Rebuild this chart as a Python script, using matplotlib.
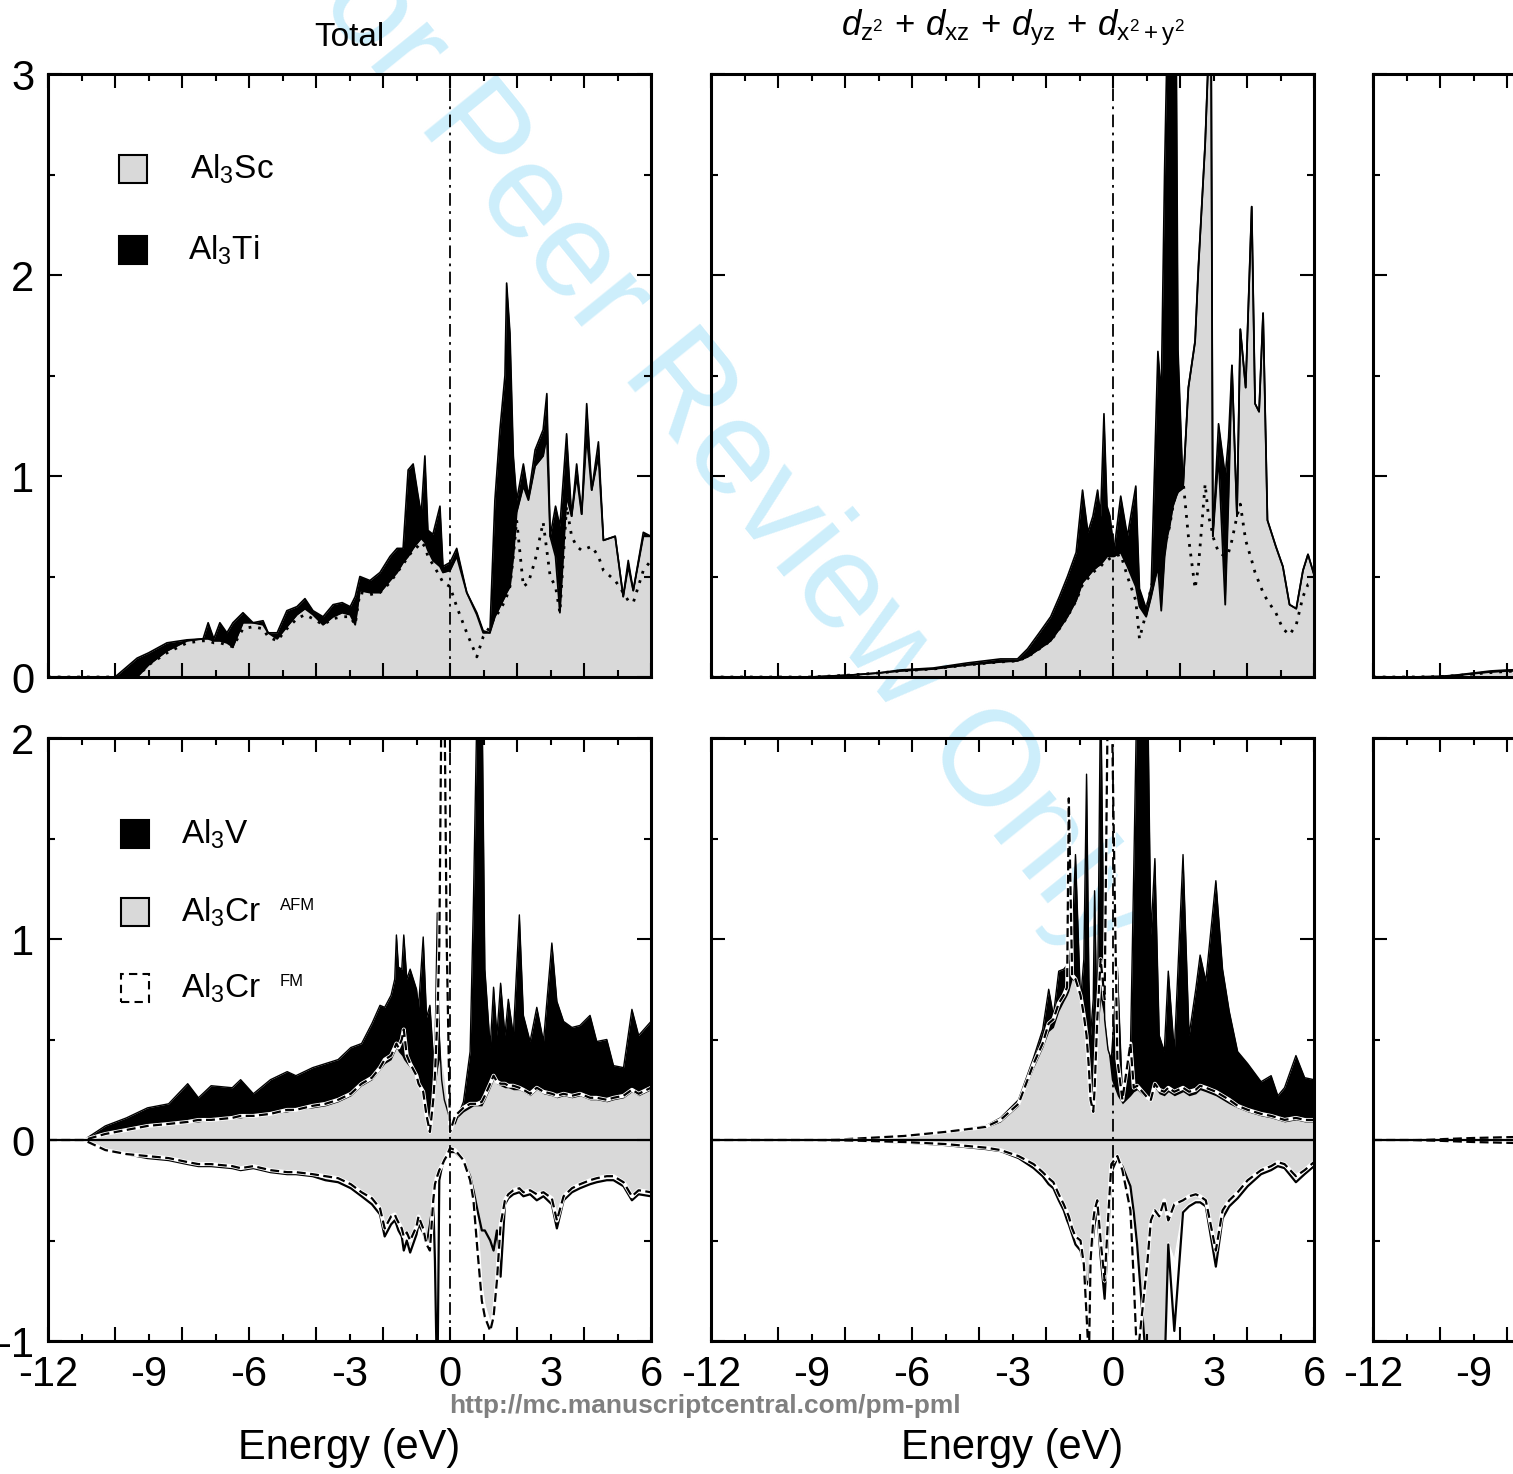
import numpy as np
import matplotlib
matplotlib.use('Agg')
import matplotlib.pyplot as plt
from matplotlib.patches import Rectangle

plt.rcParams['font.family'] = ['Liberation Sans', 'DejaVu Sans']
plt.rcParams['mathtext.fontset'] = 'custom'
plt.rcParams['mathtext.rm'] = 'Liberation Sans'
plt.rcParams['mathtext.it'] = 'Liberation Sans:italic'
plt.rcParams['mathtext.bf'] = 'Liberation Sans:bold'

GRAY = '#d9d9d9'

# ---- top row, left: total DOS ----
E_tl = [-12, -10.0, -9.34, -9.0, -8.45, -7.85, -7.37, -7.22, -7.05, -6.87,
        -6.66, -6.48, -6.18, -5.88, -5.58, -5.43, -5.16, -4.87, -4.57, -4.33,
        -4.09, -3.79, -3.49, -3.22, -2.98, -2.83, -2.69, -2.39, -2.09, -1.79,
        -1.58, -1.40, -1.25, -1.10, -0.96, -0.86, -0.75, -0.66, -0.51, -0.30,
        -0.21, 0.0, 0.2, 0.5, 0.8, 0.99, 1.19, 1.34, 1.49, 1.64,
        1.69, 1.79, 1.89, 1.99, 2.19, 2.34, 2.54, 2.78, 2.89, 2.99,
        3.15, 3.28, 3.48, 3.63, 3.78, 3.93, 4.08, 4.23, 4.43, 4.58,
        4.93, 5.17, 5.32, 5.47, 5.77, 6.0]
ti_tl = [0, 0, 0.094, 0.12, 0.17, 0.185, 0.19, 0.27, 0.19, 0.27,
         0.22, 0.27, 0.32, 0.27, 0.28, 0.22, 0.22, 0.33, 0.35, 0.39,
         0.33, 0.30, 0.36, 0.37, 0.35, 0.40, 0.50, 0.48, 0.52, 0.60,
         0.64, 0.64, 1.03, 1.06, 0.91, 0.81, 1.10, 0.73, 0.71, 0.85,
         0.55, 0.57, 0.64, 0.42, 0.32, 0.23, 0.22, 0.88, 1.23, 1.50,
         1.96, 1.71, 1.10, 0.88, 1.06, 0.90, 1.13, 1.23, 1.41, 0.70,
         0.85, 0.75, 1.21, 0.80, 1.06, 0.81, 1.36, 0.93, 1.17, 0.68,
         0.70, 0.40, 0.58, 0.43, 0.72, 0.70]
sc_tl = [0, 0, 0, 0.06, 0.13, 0.18, 0.19, 0.19, 0.18, 0.18,
         0.17, 0.15, 0.27, 0.27, 0.26, 0.22, 0.19, 0.25, 0.31, 0.34,
         0.31, 0.26, 0.30, 0.32, 0.31, 0.26, 0.43, 0.42, 0.42, 0.48,
         0.52, 0.57, 0.60, 0.64, 0.67, 0.69, 0.67, 0.63, 0.58, 0.55,
         0.52, 0.53, 0.60, 0.42, 0.31, 0.22, 0.22, 0.30, 0.35, 0.40,
         0.42, 0.45, 0.60, 0.82, 0.95, 0.88, 1.05, 1.10, 1.20, 0.70,
         0.60, 0.32, 0.90, 0.80, 1.00, 0.81, 1.20, 0.93, 1.10, 0.68,
         0.70, 0.40, 0.55, 0.43, 0.70, 0.70]
dot_tl = [0, 0, 0, 0.06, 0.12, 0.17, 0.18, 0.18, 0.17, 0.17,
          0.16, 0.15, 0.24, 0.25, 0.24, 0.20, 0.18, 0.24, 0.29, 0.31,
          0.29, 0.26, 0.29, 0.30, 0.30, 0.26, 0.42, 0.41, 0.42, 0.47,
          0.52, 0.56, 0.60, 0.63, 0.65, 0.67, 0.65, 0.60, 0.56, 0.50,
          0.47, 0.45, 0.35, 0.22, 0.10, 0.20, 0.25, 0.30, 0.33, 0.38,
          0.40, 0.45, 0.60, 0.78, 0.45, 0.47, 0.58, 0.77, 0.63, 0.50,
          0.45, 0.32, 0.85, 0.70, 0.65, 0.63, 0.64, 0.65, 0.60, 0.53,
          0.48, 0.42, 0.38, 0.37, 0.53, 0.58]

# ---- top row, middle: d states ----
E_tm = [-12, -9.0, -8.4, -7.8, -7.0, -6.35, -5.36, -4.35, -3.36, -2.85,
        -2.55, -2.2, -1.86, -1.6, -1.36, -1.1, -0.91, -0.75, -0.6, -0.46,
        -0.37, -0.27, -0.18, -0.09, 0.03, 0.23, 0.43, 0.68, 0.79, 0.99,
        1.14, 1.34, 1.44, 1.54, 1.62, 1.69, 1.79, 1.89, 1.94, 2.09,
        2.25, 2.45, 2.55, 2.75, 2.85, 2.93, 2.98, 3.15, 3.35, 3.45,
        3.55, 3.7, 3.8, 3.96, 4.14, 4.24, 4.36, 4.48, 4.61, 4.86,
        5.07, 5.27, 5.47, 5.67, 5.82, 6.0]
ti_tm = [0, 0, 0.005, 0.01, 0.02, 0.035, 0.045, 0.07, 0.09, 0.09,
         0.14, 0.22, 0.30, 0.40, 0.50, 0.62, 0.93, 0.72, 0.80, 0.93,
         0.80, 1.31, 0.85, 0.80, 0.63, 0.90, 0.70, 0.95, 0.44, 0.34,
         0.45, 1.62, 1.40, 2.52, 3.2, 3.2, 3.2, 3.1, 1.63, 0.94,
         1.44, 1.67, 2.04, 2.65, 3.1, 3.1, 0.70, 1.26, 1.00, 1.19,
         1.55, 0.80, 1.73, 1.44, 2.34, 1.36, 1.32, 1.81, 0.78, 0.65,
         0.55, 0.36, 0.34, 0.53, 0.61, 0.51]
sc_tm = [0, 0, 0.005, 0.01, 0.02, 0.03, 0.04, 0.06, 0.075, 0.08,
         0.10, 0.14, 0.18, 0.24, 0.30, 0.38, 0.47, 0.50, 0.53, 0.55,
         0.56, 0.58, 0.60, 0.60, 0.60, 0.62, 0.55, 0.45, 0.35, 0.30,
         0.40, 0.55, 0.33, 0.60, 0.70, 0.75, 0.85, 0.90, 0.92, 0.94,
         1.44, 1.67, 2.04, 2.65, 3.1, 3.1, 0.70, 1.10, 0.36, 0.90,
         1.55, 0.80, 1.73, 1.44, 2.34, 1.36, 1.32, 1.81, 0.78, 0.65,
         0.55, 0.36, 0.34, 0.53, 0.61, 0.51]
dot_tm = [0, 0, 0.005, 0.01, 0.02, 0.03, 0.04, 0.06, 0.075, 0.08,
          0.10, 0.14, 0.18, 0.24, 0.30, 0.38, 0.46, 0.49, 0.52, 0.54,
          0.55, 0.57, 0.58, 0.59, 0.60, 0.61, 0.50, 0.38, 0.19, 0.32,
          0.45, 0.55, 0.60, 0.65, 0.70, 0.75, 0.85, 0.92, 0.95, 0.98,
          0.70, 0.44, 0.55, 0.96, 0.80, 0.75, 0.70, 0.62, 0.60, 0.62,
          0.68, 0.80, 0.86, 0.68, 0.58, 0.52, 0.47, 0.42, 0.38, 0.32,
          0.24, 0.21, 0.26, 0.40, 0.46, 0.47]

# ---- right column (only its left edge is inside the picture) ----
E_r = [-12, -10.9, -10.0, -9.5, -9.0, -8.5, -8.0, -7.0]
ti_tr = [0, 0, 0.003, 0.01, 0.02, 0.03, 0.035, 0.04]
sc_tr = [0, 0, 0.002, 0.008, 0.017, 0.025, 0.03, 0.035]
dot_tr = [0, 0, 0.002, 0.007, 0.015, 0.022, 0.028, 0.032]
v_up_br = [0, 0, 0.004, 0.008, 0.011, 0.014, 0.016, 0.02]
afm_up_br = [0, 0, 0.003, 0.006, 0.009, 0.011, 0.013, 0.016]
afm_dn_br = [0, 0, -0.003, -0.006, -0.009, -0.011, -0.013, -0.016]
sol_dn_br = [0, 0, -0.004, -0.007, -0.010, -0.012, -0.014, -0.017]
fm_up_br = [0, 0, 0.004, 0.007, 0.010, 0.012, 0.014, 0.017]
fm_dn_br = [0, 0, -0.004, -0.007, -0.010, -0.012, -0.014, -0.017]

# ---- bottom row, left: spin resolved total ----
E_bl = [-12, -11.0, -10.93, -10.29, -9.66, -9.03, -8.4, -7.83, -7.51, -7.13,
        -6.5, -6.25, -5.87, -5.36, -4.86, -4.6, -4.1, -3.72, -3.34, -2.96,
        -2.64, -2.33, -2.09, -1.95, -1.76, -1.65, -1.6, -1.54, -1.44, -1.38,
        -1.29, -1.19, -1.0, -0.94, -0.8, -0.7, -0.6, -0.5, -0.45, -0.38,
        -0.32, -0.25, -0.17, -0.1, 0.0, 0.15, 0.4, 0.6, 0.7, 0.82,
        0.95, 1.04, 1.2, 1.3, 1.4, 1.51, 1.64, 1.74, 1.89, 2.07,
        2.19, 2.39, 2.59, 2.79, 3.04, 3.19, 3.39, 3.64, 3.88, 4.18,
        4.38, 4.68, 4.88, 5.18, 5.43, 5.63, 6.0]
v_up_bl = [0, 0, 0, 0.07, 0.11, 0.16, 0.18, 0.28, 0.21, 0.27,
           0.26, 0.30, 0.23, 0.30, 0.34, 0.32, 0.36, 0.38, 0.40, 0.46,
           0.48, 0.58, 0.67, 0.66, 0.72, 0.80, 1.02, 0.86, 0.85, 1.02,
           0.80, 0.85, 0.75, 0.66, 1.01, 0.61, 0.67, 0.42, 0.42, 1.13,
           0.52, 0.30, 0.20, 0.16, 0.10, 0.08, 0.19, 0.44, 1.19, 2.3,
           2.3, 0.85, 0.46, 0.76, 0.52, 0.78, 0.52, 0.70, 0.52, 1.12,
           0.62, 0.49, 0.66, 0.49, 0.98, 0.69, 0.59, 0.56, 0.57, 0.62,
           0.49, 0.50, 0.37, 0.36, 0.65, 0.52, 0.59]
afm_up_bl = [0, 0, 0, 0.03, 0.05, 0.07, 0.08, 0.09, 0.09, 0.10,
             0.11, 0.11, 0.12, 0.13, 0.14, 0.15, 0.16, 0.17, 0.19, 0.22,
             0.27, 0.30, 0.35, 0.38, 0.40, 0.44, 0.46, 0.44, 0.42, 0.40,
             0.38, 0.36, 0.30, 0.28, 0.22, 0.15, 0.05, 0.15, 0.25, 0.35,
             0.40, 0.38, 0.30, 0.18, 0.10, 0.10, 0.14, 0.16, 0.17, 0.17,
             0.17, 0.20, 0.26, 0.30, 0.28, 0.27, 0.26, 0.26, 0.25, 0.25,
             0.24, 0.22, 0.25, 0.23, 0.22, 0.21, 0.22, 0.21, 0.22, 0.20,
             0.20, 0.19, 0.20, 0.21, 0.24, 0.22, 0.25]
fm_up_bl = [0, 0, 0, 0.03, 0.05, 0.07, 0.08, 0.09, 0.10, 0.10,
            0.11, 0.12, 0.12, 0.13, 0.15, 0.15, 0.17, 0.18, 0.20, 0.23,
            0.28, 0.31, 0.36, 0.40, 0.42, 0.46, 0.48, 0.46, 0.50, 0.55,
            0.42, 0.38, 0.32, 0.28, 0.24, 0.12, 0.04, 0.20, 0.32, 0.60,
            0.95, 2.3, 2.3, 1.0, 0.04, 0.12, 0.16, 0.18, 0.18, 0.18,
            0.19, 0.22, 0.28, 0.32, 0.29, 0.28, 0.28, 0.27, 0.27, 0.26,
            0.25, 0.23, 0.26, 0.24, 0.23, 0.22, 0.23, 0.22, 0.23, 0.21,
            0.21, 0.20, 0.21, 0.22, 0.25, 0.23, 0.26]
afm_dn_bl = [0, 0, 0, -0.05, -0.07, -0.09, -0.09, -0.12, -0.12, -0.13,
             -0.14, -0.14, -0.13, -0.16, -0.16, -0.17, -0.18, -0.19, -0.20, -0.23,
             -0.27, -0.30, -0.35, -0.46, -0.40, -0.38, -0.40, -0.42, -0.46, -0.50,
             -0.48, -0.54, -0.45, -0.40, -0.45, -0.50, -0.40, -0.27, -0.22, -0.19,
             -0.16, -0.14, -0.11, -0.09, -0.07, -0.05, -0.10, -0.18, -0.23, -0.40,
             -0.72, -0.82, -0.91, -0.85, -0.68, -0.45, -0.32, -0.28, -0.26, -0.25,
             -0.27, -0.26, -0.28, -0.27, -0.30, -0.42, -0.29, -0.25, -0.23, -0.21,
             -0.20, -0.19, -0.19, -0.22, -0.29, -0.26, -0.27]
sol_dn_bl = [0, 0, 0, -0.05, -0.07, -0.09, -0.10, -0.12, -0.13, -0.13,
             -0.14, -0.15, -0.14, -0.16, -0.17, -0.17, -0.18, -0.20, -0.21, -0.24,
             -0.28, -0.32, -0.37, -0.48, -0.42, -0.40, -0.42, -0.45, -0.48, -0.55,
             -0.50, -0.56, -0.47, -0.42, -0.46, -0.52, -0.42, -0.30, -0.60, -1.3,
             -0.20, -0.14, -0.10, -0.08, -0.06, -0.06, -0.10, -0.18, -0.25, -0.35,
             -0.45, -0.45, -0.50, -0.55, -0.45, -0.68, -0.32, -0.29, -0.27, -0.26,
             -0.28, -0.27, -0.30, -0.28, -0.32, -0.44, -0.30, -0.26, -0.24, -0.22,
             -0.21, -0.20, -0.20, -0.23, -0.30, -0.27, -0.28]
fm_dn_bl = [0, 0, 0, -0.05, -0.07, -0.08, -0.09, -0.11, -0.12, -0.12,
            -0.13, -0.14, -0.13, -0.15, -0.16, -0.16, -0.17, -0.18, -0.19, -0.22,
            -0.26, -0.29, -0.34, -0.44, -0.38, -0.37, -0.39, -0.41, -0.44, -0.48,
            -0.46, -0.50, -0.43, -0.38, -0.44, -0.52, -0.55, -0.30, -0.22, -0.18,
            -0.15, -0.13, -0.10, -0.08, -0.04, -0.05, -0.10, -0.20, -0.30, -0.55,
            -0.80, -0.88, -0.95, -0.88, -0.70, -0.42, -0.30, -0.27, -0.25, -0.24,
            -0.26, -0.25, -0.27, -0.26, -0.29, -0.40, -0.28, -0.24, -0.22, -0.20,
            -0.19, -0.18, -0.18, -0.21, -0.28, -0.25, -0.26]

# ---- bottom row, middle: spin resolved d states ----
E_bm = [-12, -9.0, -8.0, -7.46, -6.24, -5.02, -3.8, -3.36, -2.82, -2.37,
        -2.1, -1.92, -1.78, -1.62, -1.47, -1.37, -1.32, -1.22, -1.12, -0.97,
        -0.87, -0.79, -0.72, -0.67, -0.59, -0.55, -0.47, -0.37, -0.25, -0.15,
        -0.05, 0.13, 0.28, 0.52, 0.62, 0.72, 1.03, 1.13, 1.25, 1.38,
        1.53, 1.65, 1.83, 2.09, 2.27, 2.47, 2.6, 2.77, 3.07, 3.27,
        3.47, 3.72, 4.02, 4.42, 4.72, 4.92, 5.12, 5.46, 5.72, 6.0]
v_up_bm = [0, 0, 0.005, 0.01, 0.02, 0.04, 0.07, 0.11, 0.20, 0.41,
           0.55, 0.75, 0.62, 0.84, 0.85, 0.87, 0.90, 1.00, 1.42, 0.69,
           0.90, 1.82, 0.80, 0.52, 0.70, 1.24, 0.52, 2.3, 0.60, 0.45,
           0.40, 0.86, 0.22, 0.44, 1.35, 2.3, 2.3, 1.02, 1.40, 0.52,
           0.44, 0.84, 0.44, 1.42, 0.52, 0.75, 0.92, 0.79, 1.29, 0.85,
           0.64, 0.44, 0.38, 0.29, 0.32, 0.22, 0.26, 0.42, 0.31, 0.30]
afm_up_bm = [0, 0, 0.004, 0.008, 0.018, 0.035, 0.06, 0.09, 0.17, 0.36,
             0.46, 0.54, 0.56, 0.64, 0.69, 0.72, 0.74, 0.80, 0.78, 0.70,
             0.60, 0.50, 0.36, 0.25, 0.18, 0.25, 0.50, 0.70, 0.60, 0.45,
             0.30, 0.22, 0.18, 0.22, 0.24, 0.25, 0.20, 0.22, 0.26, 0.23,
             0.22, 0.24, 0.22, 0.24, 0.22, 0.23, 0.25, 0.24, 0.22, 0.20,
             0.18, 0.16, 0.14, 0.12, 0.11, 0.10, 0.09, 0.10, 0.09, 0.09]
fm_up_bm = [0, 0, 0.004, 0.009, 0.02, 0.04, 0.065, 0.10, 0.18, 0.38,
            0.48, 0.58, 0.60, 0.68, 0.72, 0.76, 1.70, 0.82, 0.80, 0.72,
            0.62, 0.52, 0.36, 0.20, 0.14, 0.25, 0.60, 0.90, 0.70, 2.3,
            2.3, 0.40, 0.20, 0.48, 0.26, 0.27, 0.21, 0.20, 0.28, 0.25,
            0.24, 0.26, 0.24, 0.26, 0.24, 0.25, 0.27, 0.26, 0.24, 0.22,
            0.20, 0.17, 0.15, 0.13, 0.12, 0.11, 0.10, 0.11, 0.10, 0.10]
afm_dn_bm = [0, 0, -0.002, -0.004, -0.01, -0.02, -0.04, -0.05, -0.08, -0.13,
             -0.17, -0.20, -0.22, -0.28, -0.33, -0.38, -0.40, -0.45, -0.50, -0.52,
             -0.60, -0.70, -0.68, -0.55, -0.45, -0.40, -0.32, -0.55, -0.75, -0.45,
             -0.15, -0.08, -0.12, -0.22, -0.35, -0.50, -1.2, -1.2, -1.2, -1.2,
             -1.2, -0.51, -0.60, -0.35, -0.32, -0.30, -0.30, -0.32, -0.60, -0.38,
             -0.32, -0.28, -0.22, -0.16, -0.14, -0.12, -0.13, -0.20, -0.16, -0.12]
sol_dn_bm = [0, 0, -0.002, -0.005, -0.012, -0.025, -0.045, -0.055, -0.09, -0.14,
             -0.18, -0.22, -0.24, -0.30, -0.35, -0.40, -0.42, -0.47, -0.52, -0.55,
             -0.62, -0.72, -0.70, -0.58, -0.48, -0.42, -0.35, -0.58, -0.79, -0.48,
             -0.16, -0.09, -0.13, -0.23, -0.36, -0.52, -1.2, -1.2, -1.2, -1.2,
             -1.2, -0.52, -0.95, -0.36, -0.33, -0.31, -0.31, -0.33, -0.63, -0.39,
             -0.33, -0.29, -0.23, -0.17, -0.15, -0.13, -0.14, -0.21, -0.17, -0.13]
fm_dn_bm = [0, 0, -0.002, -0.004, -0.01, -0.02, -0.038, -0.05, -0.08, -0.12,
            -0.16, -0.19, -0.21, -0.27, -0.32, -0.36, -0.38, -0.44, -0.48, -0.50,
            -0.62, -0.87, -1.1, -0.60, -0.40, -0.35, -0.30, -0.50, -0.70, -0.40,
            -0.12, -0.08, -0.15, -0.35, -0.70, -1.1, -0.60, -0.40, -0.35, -0.38,
            -0.30, -0.40, -0.32, -0.30, -0.28, -0.27, -0.28, -0.30, -0.55, -0.35,
            -0.30, -0.26, -0.20, -0.15, -0.13, -0.11, -0.12, -0.18, -0.15, -0.11]

x_ticks = list(range(-12, 7))


def setup_axes(ax, ylo, yhi, ylabels, xlabels):
    ax.set_facecolor('none')
    ax.set_xlim(-12, 6)
    ax.set_ylim(ylo, yhi)
    ax.set_xticks(x_ticks)
    if xlabels:
        ax.set_xticklabels([str(t) if t % 3 == 0 else '' for t in x_ticks])
    else:
        ax.set_xticklabels([])
    yt = np.arange(ylo, yhi + 0.01, 0.5)
    ax.set_yticks(yt)
    if ylabels:
        ax.set_yticklabels([str(int(t)) if t == int(t) else '' for t in yt])
    else:
        ax.set_yticklabels([])
    ax.tick_params(direction='in', top=True, right=True, width=1.5,
                   labelsize=30, pad=10)
    for t, tick in zip(x_ticks, ax.xaxis.get_major_ticks()):
        L = 10 if t % 2 == 0 else 5
        tick.tick1line.set_markersize(L)
        tick.tick2line.set_markersize(L)
    for t, tick in zip(yt, ax.yaxis.get_major_ticks()):
        L = 10 if t == int(t) else 5
        tick.tick1line.set_markersize(L)
        tick.tick2line.set_markersize(L)
    for s in ax.spines.values():
        s.set_linewidth(2.2)
    ax.axvline(0, color='k', lw=1.3, ls=(0, (7, 3, 1.5, 3)), zorder=5)


def draw_total(ax, E, ti, sc, dot):
    ax.fill_between(E, 0, ti, color='k', lw=0)
    ax.plot(E, ti, color='k', lw=1.2)
    ax.fill_between(E, 0, sc, color=GRAY, lw=0)
    ax.plot(E, sc, color='k', lw=1.3)
    ax.plot(E, dot, color='k', ls=(0, (1, 2.5)), lw=2)


def draw_spin(ax, E, v_up, afm_up, afm_dn, sol_dn, fm_up, fm_dn):
    ax.fill_between(E, 0, v_up, color='k', lw=0)
    ax.plot(E, v_up, color='k', lw=1)
    ax.fill_between(E, afm_dn, afm_up, color=GRAY, lw=0)
    ax.plot(E, afm_dn, color='w', lw=1)
    ax.plot(E, sol_dn, color='k', lw=1.6)
    for y in (fm_up, fm_dn):
        ax.plot(E, y, color='w', lw=2.8)
        ax.plot(E, y, color='k', lw=1.6, ls=(0, (4, 2)))
    ax.axhline(0, color='k', lw=1.6, zorder=4)


fig = plt.figure(figsize=(15.13, 14.74), dpi=100)

lefts = [0.03173, 0.46993, 0.90747]
w, h = 0.39855, 0.40909
ax_tl = fig.add_axes([lefts[0], 0.54070, w, h])
ax_tm = fig.add_axes([lefts[1], 0.54070, w, h])
ax_tr = fig.add_axes([lefts[2], 0.54070, w, h])
ax_bl = fig.add_axes([lefts[0], 0.09023, w, h])
ax_bm = fig.add_axes([lefts[1], 0.09023, w, h])
ax_br = fig.add_axes([lefts[2], 0.09023, w, h])

draw_total(ax_tl, E_tl, ti_tl, sc_tl, dot_tl)
draw_total(ax_tm, E_tm, ti_tm, sc_tm, dot_tm)
draw_total(ax_tr, E_r, ti_tr, sc_tr, dot_tr)
draw_spin(ax_bl, E_bl, v_up_bl, afm_up_bl, afm_dn_bl, sol_dn_bl, fm_up_bl, fm_dn_bl)
draw_spin(ax_bm, E_bm, v_up_bm, afm_up_bm, afm_dn_bm, sol_dn_bm, fm_up_bm, fm_dn_bm)
draw_spin(ax_br, E_r, v_up_br, afm_up_br, afm_dn_br, sol_dn_br, fm_up_br, fm_dn_br)

setup_axes(ax_tl, 0, 3, True, False)
setup_axes(ax_tm, 0, 3, False, False)
setup_axes(ax_tr, 0, 3, False, False)
setup_axes(ax_bl, -1, 2, True, True)
setup_axes(ax_bm, -1, 2, False, True)
setup_axes(ax_br, -1, 2, False, True)

ax_tl.set_title('Total', fontsize=24, pad=20)
ax_tm.set_title(r'$d_{\mathrm{z}^2}\, +\, d_{\mathrm{xz}}\, +\, d_{\mathrm{yz}}\, +\, d_{\mathrm{x}^2 + \mathrm{y}^2}$',
                fontsize=25, pad=28)
for ax in (ax_bl, ax_bm):
    ax.set_xlabel('Energy (eV)', fontsize=30, labelpad=24)

# legends
sq = 0.046
ax_tl.add_patch(Rectangle((0.118, 0.819), sq, sq, transform=ax_tl.transAxes,
                          facecolor=GRAY, edgecolor='k', lw=1.5))
ax_tl.add_patch(Rectangle((0.118, 0.685), sq, sq, transform=ax_tl.transAxes,
                          facecolor='k', edgecolor='k', lw=1.5))
ax_tl.text(0.235, 0.842, 'Al$_3$Sc', transform=ax_tl.transAxes, fontsize=24, va='center')
ax_tl.text(0.232, 0.708, 'Al$_3$Ti', transform=ax_tl.transAxes, fontsize=24, va='center')

ax_bl.add_patch(Rectangle((0.121, 0.818), sq, sq, transform=ax_bl.transAxes,
                          facecolor='k', edgecolor='k', lw=1.5))
ax_bl.add_patch(Rectangle((0.121, 0.688), sq, sq, transform=ax_bl.transAxes,
                          facecolor=GRAY, edgecolor='k', lw=1.5))
ax_bl.add_patch(Rectangle((0.121, 0.562), sq, sq, transform=ax_bl.transAxes,
                          facecolor='none', edgecolor='k', lw=1.5, ls=(0, (4, 2.5))))
ax_bl.text(0.221, 0.841, 'Al$_3$V', transform=ax_bl.transAxes, fontsize=24, va='center')
ax_bl.text(0.221, 0.711, 'Al$_3$Cr', transform=ax_bl.transAxes, fontsize=24, va='center')
ax_bl.text(0.221, 0.585, 'Al$_3$Cr', transform=ax_bl.transAxes, fontsize=24, va='center')
ax_bl.text(0.384, 0.722, 'AFM', transform=ax_bl.transAxes, fontsize=12, va='center')
ax_bl.text(0.384, 0.596, 'FM', transform=ax_bl.transAxes, fontsize=12, va='center')

fig.text(705 / 1513, 1 - 1406 / 1474, 'http://mc.manuscriptcentral.com/pm-pml',
         fontsize=19, fontweight='bold', color='#808080', ha='center', va='center')
fig.text(708 / 1513, 1 - 428 / 1474, 'For Peer Review Only', fontsize=97,
         color='#cdeefb', rotation=-51, ha='center', va='center',
         rotation_mode='anchor', zorder=-1)

fig.savefig('out.png', dpi=100)
